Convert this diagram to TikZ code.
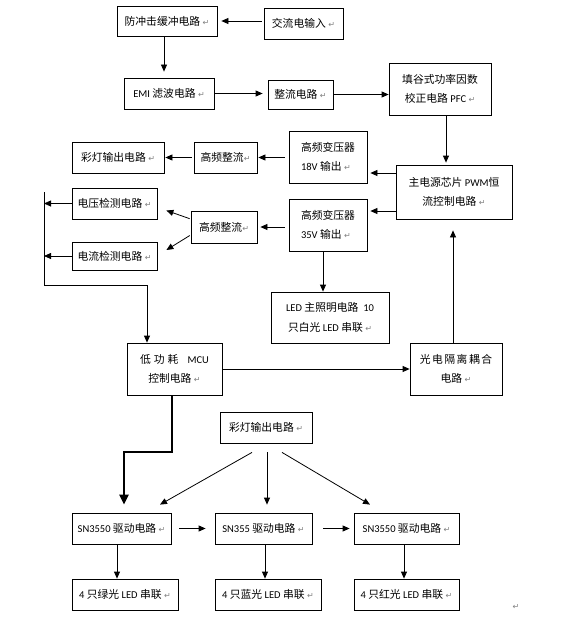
\documentclass[tikz,border=0pt]{standalone}
\usepackage{fontspec}
\setmainfont{Noto Sans CJK SC}
\newfontfamily\latfont{Carlito}
\newfontfamily\retfont{DejaVu Sans}
\usetikzlibrary{arrows.meta}
\newcommand{\lat}[1]{{\latfont\fontsize{10.5}{12}\selectfont #1}}
\newcommand{\rt}{{\retfont\fontsize{8}{8}\selectfont\color{gray}↵}}
\begin{document}
\begin{tikzpicture}[x=1pt,y=-1pt,
  box/.style={draw=black, line width=0.8pt, inner sep=0pt, align=center, font=\fontsize{10.8}{19.5}\selectfont},
  arr/.style={line width=0.8pt, -{Triangle[length=7pt,width=6pt]}},
  bigarr/.style={line width=2.6pt, line join=miter, -{Triangle[length=10pt,width=9pt]}},
  ln/.style={line width=0.8pt}]
\fill[white] (0,0) rectangle (568,618);
\useasboundingbox (0,0) rectangle (568,618);

\node[box,minimum width=100pt,minimum height=30pt] (fcj) at (167,21) {防冲击缓冲电路 \rt};
\node[box,minimum width=79pt,minimum height=31pt] (jl) at (303.5,23.5) {交流电输入 \rt};
\node[box,minimum width=90pt,minimum height=31pt] (emi) at (169,93.5) {\lat{EMI} 滤波电路 \rt};
\node[box,minimum width=65pt,minimum height=29pt] (zl) at (300.5,94.5) {整流电路 \rt};
\node[box,minimum width=102pt,minimum height=52pt] (pfc) at (440,89) {填谷式功率因数\\校正电路 \lat{PFC} \rt};
\node[box,minimum width=92pt,minimum height=31pt] (cd1) at (118,157.5) {彩灯输出电路 \rt};
\node[box,minimum width=63pt,minimum height=31pt] (gz1) at (225.5,157.5) {高频整流\rt};
\node[box,minimum width=78pt,minimum height=52pt,align=left] (t18) at (328,157) {高频变压器\\\lat{18V} 输出 \rt};
\node[box,minimum width=116pt,minimum height=54pt] (main) at (454,192) {主电源芯片 \lat{PWM}恒\\流控制电路 \rt};
\node[box,minimum width=78pt,minimum height=52pt,align=left] (t35) at (328,225) {高频变压器\\\lat{35V} 输出 \rt};
\node[box,minimum width=66pt,minimum height=32pt] (gz2) at (224,227) {高频整流\rt};
\node[box,minimum width=85pt,minimum height=31pt] (dy) at (114.5,203.5) {电压检测电路 \rt};
\node[box,minimum width=85pt,minimum height=28pt] (dl) at (114.5,256) {电流检测电路 \rt};
\node[box,minimum width=118pt,minimum height=51pt] (led) at (330,317.5) {\lat{LED} 主照明电路\ \ \lat{10}\\只白光 \lat{LED} 串联 \rt};
\node[box,minimum width=95pt,minimum height=52pt] (mcu) at (174.5,369) {低\kern3pt 功\kern3pt 耗\kern9pt\lat{MCU}\\控制电路 \rt};
\node[box,minimum width=92pt,minimum height=52pt] (gd) at (456,369) {光\kern1.5pt 电\kern1.5pt 隔\kern1.5pt 离\kern1.5pt 耦\kern1.5pt 合\\电路 \rt};
\node[box,minimum width=92pt,minimum height=31pt] (cd2) at (266,427.5) {彩灯输出电路 \rt};
\node[box,minimum width=99pt,minimum height=31pt] (sn1) at (121.5,528.5) {\lat{SN3550} 驱动电路 \rt};
\node[box,minimum width=97pt,minimum height=31pt] (sn2) at (263.5,528.5) {\lat{SN355} 驱动电路 \rt};
\node[box,minimum width=105pt,minimum height=31pt] (sn3) at (406.5,528.5) {\lat{SN3550} 驱动电路 \rt};
\node[box,minimum width=106pt,minimum height=31pt] (g) at (125,594.5) {\lat{4} 只绿光 \lat{LED} 串联 \rt};
\node[box,minimum width=106pt,minimum height=31pt] (b) at (268,594.5) {\lat{4} 只蓝光 \lat{LED} 串联 \rt};
\node[box,minimum width=105pt,minimum height=31pt] (r) at (406.5,594.5) {\lat{4} 只红光 \lat{LED} 串联 \rt};
\node[inner sep=0pt] (endmark) at (516,607) {\rt};

\draw[arr, shorten <=2pt, shorten >=4pt] (jl.west |- fcj.east) -- (fcj.east);
\draw[arr, shorten >=6pt] ([xshift=-3pt]fcj.south) -- ([xshift=-3pt]fcj.south |- emi.north);
\draw[arr, shorten >=5pt] (emi.east) -- (emi.east -| zl.west);
\draw[arr] (zl.east) -- (zl.east -| pfc.west);
\draw[arr, shorten >=2pt] ([xshift=6pt]pfc.south) -- ([xshift=6pt]pfc.south |- main.north);
\draw[arr, shorten >=3pt] ([yshift=19pt]main.west) -- ([yshift=19pt]main.west -| t18.east);
\draw[arr, shorten >=3pt] ([yshift=-19pt]main.west) -- ([yshift=-19pt]main.west -| t35.east);
\draw[arr, shorten <=4pt, shorten >=1pt] (t18.west |- gz1.east) -- (gz1.east);
\draw[arr, shorten <=2pt, shorten >=1pt] (gz1.west) -- (cd1.east);
\draw[arr, shorten <=4pt, shorten >=3pt] (t35.west |- gz2.east) -- (gz2.east);
\draw[arr, shorten <=1pt] ([yshift=8pt]gz2.west) -- ([xshift=9pt,yshift=-7pt]dy.east);
\draw[arr, shorten <=1pt] ([yshift=-8pt]gz2.west) -- ([xshift=9pt,yshift=6pt]dl.east);
\coordinate (bt) at (44,192);
\coordinate (bb) at (44,285);
\coordinate (mcuin) at ([xshift=-27.5pt]mcu.north);
\draw[arr] (bt) -- (bb) -| (mcuin);
\draw[arr] (dy.west) -- (dy.west -| bt);
\draw[arr] (dl.west) -- (dl.west -| bt);
\draw[arr] ([xshift=-5pt]t35.south) -- ([xshift=-5pt]t35.south |- led.north);
\draw[arr, shorten >=11pt] ([xshift=-3pt]gd.north) -- ([xshift=-3pt]gd.north |- main.south);
\draw[arr] (mcu.east) -- (gd.west);
\coordinate (k2) at (124,452);
\draw[bigarr, shorten >=8pt] ([xshift=-2.5pt]mcu.south) |- (k2) -- (k2 |- sn1.north);
\draw[arr] ([xshift=-14pt,yshift=-9pt]cd2.south) -- ([xshift=38.5pt,yshift=8pt]sn1.north);
\draw[arr, shorten <=9pt, shorten >=8pt] ([xshift=1pt]cd2.south) -- ([xshift=1pt]cd2.south |- sn2.north);
\draw[arr] ([xshift=16pt,yshift=-9pt]cd2.south) -- ([xshift=-36.5pt,yshift=8pt]sn3.north);
\draw[arr, shorten <=8pt, shorten >=9pt] (sn1.east) -- (sn2.west);
\draw[arr, shorten <=11pt, shorten >=4pt] (sn2.east) -- (sn3.west);
\draw[arr] ([xshift=-4.5pt]sn1.south) -- ([xshift=-4.5pt]sn1.south |- g.north);
\draw[arr] ([xshift=1.5pt]sn2.south) -- ([xshift=1.5pt]sn2.south |- b.north);
\draw[arr] ([xshift=-2.5pt]sn3.south) -- ([xshift=-2.5pt]sn3.south |- r.north);
\end{tikzpicture}
\end{document}
